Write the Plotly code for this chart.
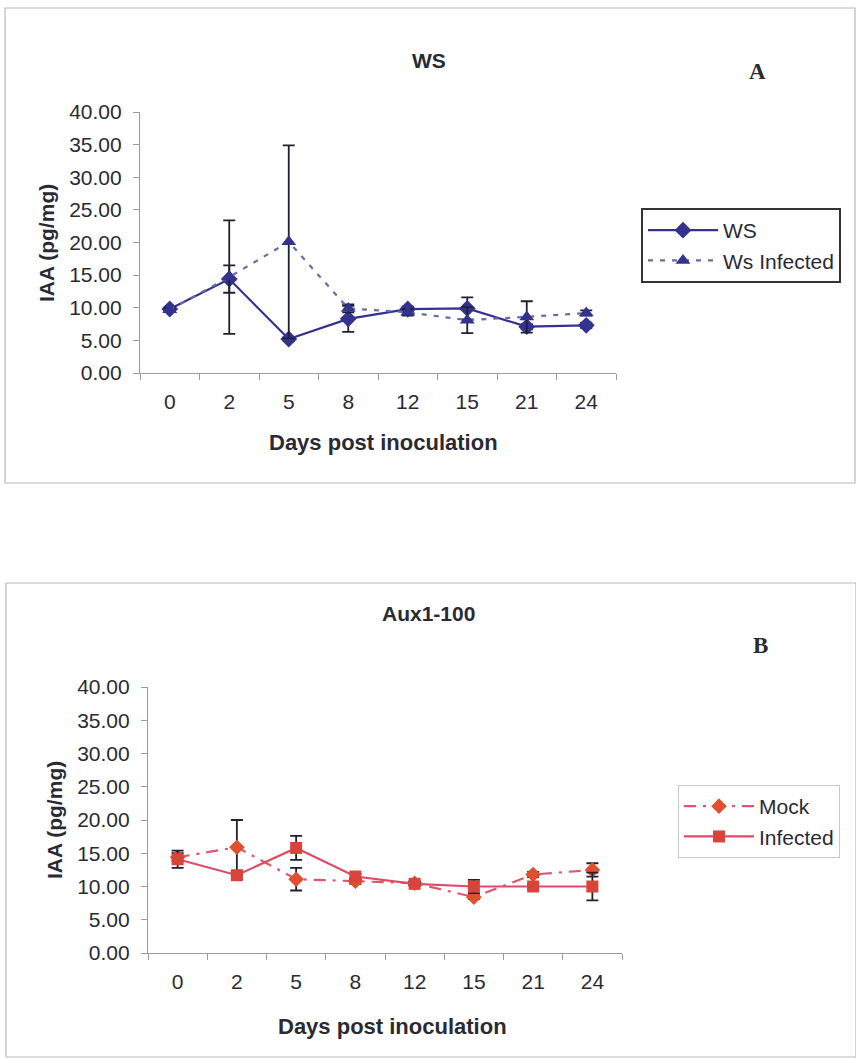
import plotly.graph_objects as go

W, H = 856, 1059

days = ["0", "2", "5", "8", "12", "15", "21", "24"]

# Panel A (WS)
ws = [9.8, 14.4, 5.2, 8.3, 9.8, 9.9, 7.1, 7.3]
ws_err = [0.3, 2.1, 0.3, 2.0, 0.4, 1.7, 0.4, 0.4]
ws_inf = [9.7, 14.7, 20.1, 9.9, 9.3, 8.1, 8.6, 9.2]
ws_inf_err = [0.3, 8.7, 14.8, 0.6, 0.5, 2.0, 2.4, 0.4]

# Panel B (Aux1-100)
mock = [14.4, 15.9, 11.1, 10.8, 10.5, 8.4, 11.8, 12.5]
mock_err = [0.6, 4.1, 1.7, 0.4, 0.3, 0.3, 0.4, 1.0]
infected = [14.1, 11.7, 15.8, 11.5, 10.4, 10.0, 10.0, 10.0]
infected_err = [1.3, 0.5, 1.8, 0.4, 0.3, 1.0, 0.3, 2.1]

y_ticks = [0, 5, 10, 15, 20, 25, 30, 35, 40]

FONT = "Liberation Sans, Arial, sans-serif"
SERIF = "Liberation Serif, Times New Roman, serif"
TXT = "#2a2a33"
NAVY = "#33338f"
ERR = "#202030"


def px_x(x):
    return x / W


def px_y(y):
    return 1 - y / H


def err(vals, color=ERR):
    return dict(type="data", array=vals, visible=True, color=color, thickness=1.8, width=6)


fig = go.Figure()

fig.add_trace(go.Scatter(
    x=days, y=ws, name="WS", mode="lines+markers",
    line=dict(color=NAVY, width=2.2),
    marker=dict(symbol="diamond", size=13, color=NAVY),
    error_y=err(ws_err), xaxis="x", yaxis="y", legend="legend",
))
fig.add_trace(go.Scatter(
    x=days, y=ws_inf, name="Ws Infected", mode="lines+markers",
    line=dict(color="#6a6aa6", width=2.2, dash="5px,7px"),
    marker=dict(symbol="triangle-up", size=13, color=NAVY),
    error_y=err(ws_inf_err), xaxis="x", yaxis="y", legend="legend",
))

fig.add_trace(go.Scatter(
    x=days, y=mock, name="Mock", mode="lines+markers",
    line=dict(color="#e0566e", width=2.2, dash="12px,7px,3px,7px"),
    marker=dict(symbol="diamond", size=12, color="#e0502f"),
    error_y=err(mock_err), xaxis="x2", yaxis="y2", legend="legend2",
))
fig.add_trace(go.Scatter(
    x=days, y=infected, name="Infected", mode="lines+markers",
    line=dict(color="#e04a68", width=2.2),
    marker=dict(symbol="square", size=12, color="#d9443a"),
    error_y=err(infected_err), xaxis="x2", yaxis="y2", legend="legend2",
))

xcommon = dict(
    type="category", categoryorder="array", categoryarray=days,
    range=[-0.5, 7.5], showline=True, linecolor="#9a9aa0", linewidth=1.2,
    ticks="outside", tickson="boundaries", ticklen=6, tickcolor="#9a9aa0",
    tickfont=dict(family=FONT, size=21, color=TXT), showgrid=False,
    zeroline=False, fixedrange=True, ticklabelstandoff=10, automargin=False,
)
ycommon = dict(
    range=[0, 40], tickvals=y_ticks, tickformat=".2f", showline=True,
    linecolor="#9a9aa0", linewidth=1.2, ticks="outside", ticklen=6,
    tickcolor="#9a9aa0", tickfont=dict(family=FONT, size=21, color=TXT),
    showgrid=False, zeroline=False, fixedrange=True, ticklabelstandoff=7,
    automargin=False,
)

fig.update_layout(
    width=W, height=H, autosize=False,
    margin=dict(l=0, r=0, t=0, b=0, pad=0, autoexpand=False),
    paper_bgcolor="white", plot_bgcolor="white",
    font=dict(family=FONT, color=TXT),
    xaxis=dict(xcommon, domain=[px_x(140), px_x(616)], anchor="y"),
    yaxis=dict(ycommon, domain=[px_y(373), px_y(112)], anchor="x"),
    xaxis2=dict(xcommon, domain=[px_x(148), px_x(622)], anchor="y2"),
    yaxis2=dict(ycommon, domain=[px_y(953), px_y(687)], anchor="x2"),
    legend=dict(
        x=px_x(641), y=px_y(208), xanchor="left", yanchor="top",
        bgcolor="white", bordercolor="#333333", borderwidth=2,
        font=dict(family=FONT, size=21, color=TXT), itemwidth=70,
        tracegroupgap=0,
    ),
    legend2=dict(
        x=px_x(678), y=px_y(785), xanchor="left", yanchor="top",
        bgcolor="white", bordercolor="#c8c8cc", borderwidth=1,
        font=dict(family=FONT, size=21, color=TXT), itemwidth=70,
        tracegroupgap=0,
    ),
    showlegend=True,
)

# Panel frames
fig.add_shape(type="rect", xref="paper", yref="paper",
              x0=px_x(5), x1=px_x(855), y0=px_y(483), y1=px_y(8),
              line=dict(color="#b8b8bc", width=1.2), layer="below")
fig.add_shape(type="rect", xref="paper", yref="paper",
              x0=px_x(6), x1=px_x(856), y0=px_y(1057), y1=px_y(583),
              line=dict(color="#b8b8bc", width=1.2), layer="below")

ann = []
# titles
ann.append(dict(text="<b>WS</b>", x=px_x(429), y=px_y(60), font=dict(size=21)))
ann.append(dict(text="<b>Aux1-100</b>", x=px_x(428), y=px_y(613), font=dict(size=21)))
# panel letters
ann.append(dict(text="<b>A</b>", x=px_x(757), y=px_y(72), font=dict(size=23, family=SERIF)))
ann.append(dict(text="<b>B</b>", x=px_x(760), y=px_y(645), font=dict(size=23, family=SERIF)))
# axis titles
ann.append(dict(text="<b>Days post inoculation</b>", x=px_x(383), y=px_y(442), font=dict(size=22)))
ann.append(dict(text="<b>Days post inoculation</b>", x=px_x(392), y=px_y(1026), font=dict(size=22)))
ann.append(dict(text="<b>IAA (pg/mg)</b>", x=px_x(47), y=px_y(243), textangle=-90, font=dict(size=21)))
ann.append(dict(text="<b>IAA (pg/mg)</b>", x=px_x(54), y=px_y(820), textangle=-90, font=dict(size=21)))

for a in ann:
    a.update(xref="paper", yref="paper", showarrow=False, xanchor="center", yanchor="middle")
    a["font"].setdefault("family", FONT)
    a["font"].setdefault("color", TXT)
    fig.add_annotation(**a)

fig.write_html(
    "out.html",
    config={"displayModeBar": False},
    post_script=(
        "document.documentElement.style.margin='0';"
        "document.documentElement.style.overflow='hidden';"
        "document.body.style.margin='0';document.body.style.padding='0';"
        "document.body.style.overflow='hidden';"
        "var g=document.getElementById('{plot_id}');"
        "if(g){g.style.position='fixed';g.style.left='0px';g.style.top='0px';"
        "if(g.parentElement){g.parentElement.style.fontSize='0';g.parentElement.style.lineHeight='0';}}"
    ),
)
